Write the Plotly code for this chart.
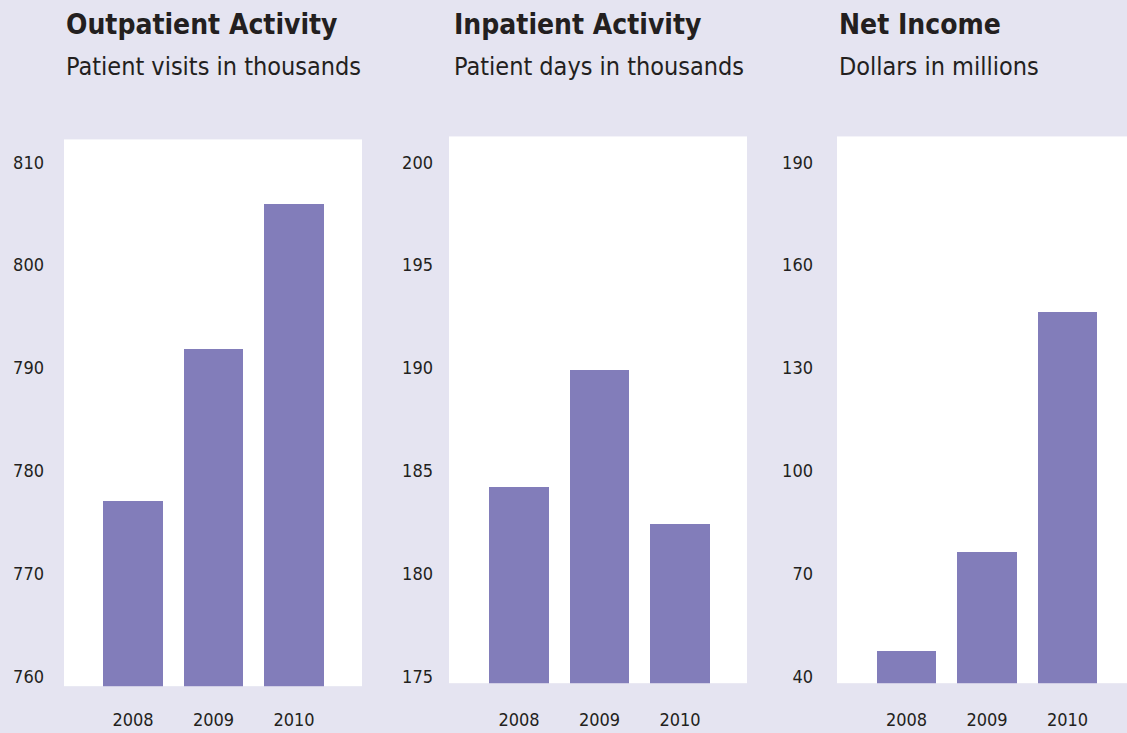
import plotly.graph_objects as go

years = ["2008", "2009", "2010"]
outpatient = [777.0, 791.8, 805.9]
inpatient = [184.2, 189.9, 182.4]
net_income = [47.3, 76.3, 146.4]

titles = ["Outpatient Activity", "Inpatient Activity", "Net Income"]
subtitles = ["Patient visits in thousands", "Patient days in thousands", "Dollars in millions"]
tick_vals = [[760, 770, 780, 790, 800, 810],
             [175, 180, 185, 190, 195, 200],
             [40, 70, 100, 130, 160, 190]]

W, H = 1127, 733
BG = "#E5E4F1"
BAR = "#827DBA"
TXT = "#231F20"
FONT = "Liberation Sans Narrow, DejaVu Sans Condensed, Arial Narrow, sans-serif"

# panel geometry in pixels: (left, right, top, bottom)
panels = [(64, 362, 140, 689), (449, 747, 137, 686), (837, 1127, 137, 686)]
yranges = [[759.03, 812.23], [174.66, 201.26], [37.97, 197.57]]
xcenters0 = [133, 519, 906.5]
ystand = [19, 15, 23]
xstand = [21, 24, 24]
title_x = [64, 452, 837]
PXU = 80.5

series = [outpatient, inpatient, net_income]

fig = go.Figure()
for i in range(3):
    l, r, t, b = panels[i]
    xa = "x" if i == 0 else f"x{i+1}"
    ya = "y" if i == 0 else f"y{i+1}"
    fig.add_trace(go.Bar(x=[0, 1, 2], y=series[i], marker=dict(color=BAR, line=dict(width=0)),
                         width=0.745, xaxis=xa, yaxis=ya, showlegend=False, hoverinfo="skip"))
    c0 = xcenters0[i]
    xr = [(l - c0) / PXU, (r - c0) / PXU]
    key = "" if i == 0 else str(i + 1)
    fig.update_layout(**{
        f"xaxis{key}": dict(domain=[l / W, r / W], range=xr, tickmode="array", tickvals=[0, 1, 2],
                            ticktext=years, showgrid=False, zeroline=False, showline=False,
                            ticks="", ticklabelstandoff=xstand[i], anchor=ya,
                            tickfont=dict(family=FONT, size=18, color=TXT), fixedrange=True),
        f"yaxis{key}": dict(domain=[1 - b / H, 1 - t / H], range=yranges[i], tickmode="array",
                            tickvals=tick_vals[i], showgrid=False, zeroline=False, showline=False,
                            ticks="", ticklabelstandoff=ystand[i], anchor=xa,
                            tickfont=dict(family=FONT, size=18, color=TXT), fixedrange=True),
    })
    fig.add_annotation(text=f"<b>{titles[i]}</b>", xref="paper", yref="paper",
                       x=title_x[i] / W, y=1 - 6 / H, xanchor="left", yanchor="top",
                       showarrow=False, font=dict(family=FONT, size=28, color=TXT))
    fig.add_annotation(text=subtitles[i], xref="paper", yref="paper",
                       x=title_x[i] / W, y=1 - 50 / H, xanchor="left", yanchor="top",
                       showarrow=False, font=dict(family=FONT, size=25, color=TXT))

fig.update_layout(width=W, height=H, margin=dict(l=0, r=0, t=0, b=0),
                  paper_bgcolor=BG, plot_bgcolor="white", bargap=0)
fig.write_html("out.html", config={"displayModeBar": False, "staticPlot": True},
               post_script="document.body.style.margin='0';document.body.style.padding='0';"
                           "document.body.style.overflow='hidden';")
